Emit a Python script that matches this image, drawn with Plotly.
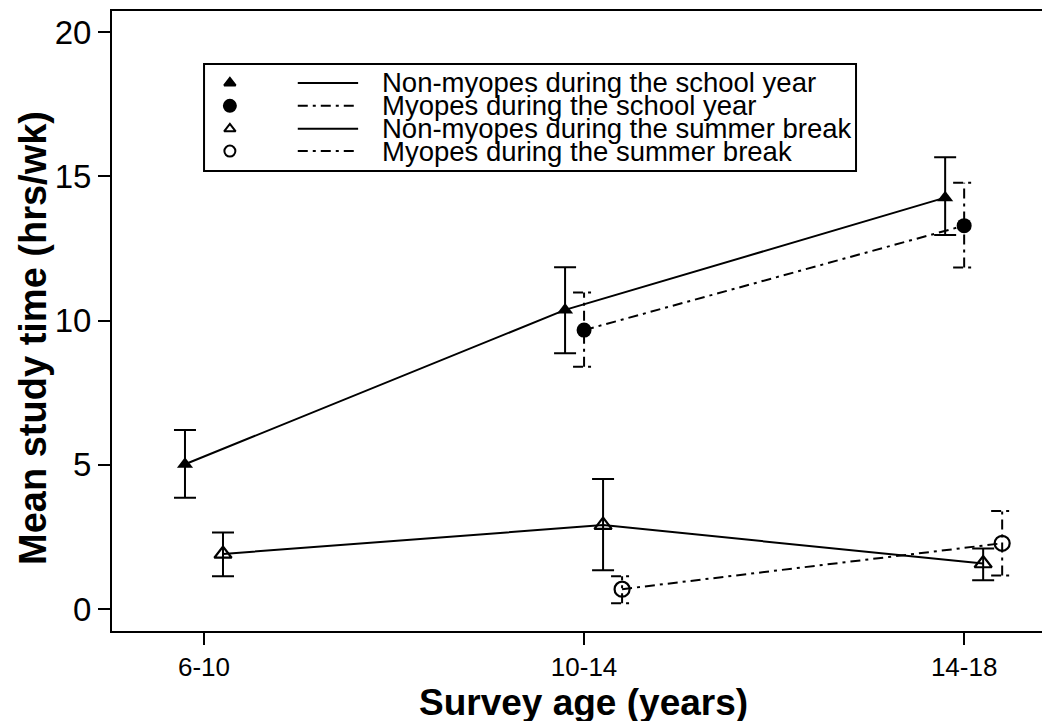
import plotly.graph_objects as go

# survey age groups (x categories)
ages = ["6-10", "10-14", "14-18"]

# mean study time (hrs/wk) with lower / upper error bar ends
nm_school = [5.02, 10.37, 14.26]
nm_school_hi = [6.21, 11.85, 15.66]
nm_school_lo = [3.86, 8.87, 12.97]

my_school_ages = ["10-14", "14-18"]
my_school = [9.67, 13.29]
my_school_hi = [10.97, 14.78]
my_school_lo = [8.40, 11.84]

nm_summer = [1.91, 2.91, 1.58]
nm_summer_hi = [2.65, 4.51, 2.10]
nm_summer_lo = [1.14, 1.35, 1.00]

my_summer_ages = ["10-14", "14-18"]
my_summer = [0.69, 2.28]
my_summer_hi = [1.14, 3.40]
my_summer_lo = [0.20, 1.16]

legend_labels = ["Non-myopes during the school year",
                 "Myopes during the school year",
                 "Non-myopes during the summer break",
                 "Myopes during the summer break"]

BLACK = "black"
DASHDOT = "10px,5px,3px,5px"
CAP = 0.029  # half cap width in x units
FONT = "Liberation Sans, Arial, sans-serif"


def xpos(cats, offset):
    return [ages.index(c) + 1 + offset for c in cats]


def err_path(xs, lo, hi):
    ex, ey = [], []
    for x, l, h in zip(xs, lo, hi):
        ex += [x, x, None, x - CAP, x + CAP, None, x - CAP, x + CAP, None]
        ey += [l, h, None, h, h, None, l, l, None]
    return ex, ey


fig = go.Figure()

# non-myopes school year
x1 = xpos(ages, -0.05)
fig.add_trace(go.Scatter(
    x=x1, y=nm_school, mode="lines+markers",
    line=dict(color=BLACK, width=2),
    marker=dict(symbol="triangle-up", size=14, color=BLACK),
    error_y=dict(type="data", symmetric=False,
                 array=[h - v for h, v in zip(nm_school_hi, nm_school)],
                 arrayminus=[v - l for l, v in zip(nm_school_lo, nm_school)],
                 color=BLACK, thickness=2, width=11),
    showlegend=False))

# myopes school year
x2 = xpos(my_school_ages, 0.0)
ex, ey = err_path(x2, my_school_lo, my_school_hi)
fig.add_trace(go.Scatter(x=ex, y=ey, mode="lines",
                         line=dict(color=BLACK, width=2, dash=DASHDOT),
                         showlegend=False, hoverinfo="skip"))
fig.add_trace(go.Scatter(
    x=x2, y=my_school, mode="lines+markers",
    line=dict(color=BLACK, width=2, dash=DASHDOT),
    marker=dict(symbol="circle", size=15, color=BLACK),
    showlegend=False))

# non-myopes summer break
x3 = xpos(ages, 0.05)
fig.add_trace(go.Scatter(
    x=x3, y=nm_summer, mode="lines+markers",
    line=dict(color=BLACK, width=2),
    marker=dict(symbol="triangle-up-open", size=15, color=BLACK, line=dict(width=2.2)),
    error_y=dict(type="data", symmetric=False,
                 array=[h - v for h, v in zip(nm_summer_hi, nm_summer)],
                 arrayminus=[v - l for l, v in zip(nm_summer_lo, nm_summer)],
                 color=BLACK, thickness=2, width=11),
    showlegend=False))

# myopes summer break
x4 = xpos(my_summer_ages, 0.10)
ex, ey = err_path(x4, my_summer_lo, my_summer_hi)
fig.add_trace(go.Scatter(x=ex, y=ey, mode="lines",
                         line=dict(color=BLACK, width=2, dash=DASHDOT),
                         showlegend=False, hoverinfo="skip"))
fig.add_trace(go.Scatter(
    x=x4, y=my_summer, mode="lines+markers",
    line=dict(color=BLACK, width=2, dash=DASHDOT),
    marker=dict(symbol="circle-open", size=15, color=BLACK, line=dict(width=2.2)),
    showlegend=False))

# hand-made legend on an overlay axis (0..1 = plot area)
rows_y = [0.884, 0.847, 0.810, 0.774]
symbols = ["triangle-up", "circle", "triangle-up-open", "circle-open"]
sizes = [10, 12, 10, 11]
dashes = ["solid", DASHDOT, "solid", DASHDOT]
for ry, sym, sz, d, lab in zip(rows_y, symbols, sizes, dashes, legend_labels):
    fig.add_trace(go.Scatter(x=[0.125], y=[ry], mode="markers", xaxis="x2", yaxis="y2",
                             marker=dict(symbol=sym, size=sz, color=BLACK, line=dict(width=2, color=BLACK)),
                             showlegend=False, hoverinfo="skip"))
    fig.add_trace(go.Scatter(x=[0.197, 0.261], y=[ry, ry], mode="lines", xaxis="x2", yaxis="y2",
                             line=dict(color=BLACK, width=2, dash=d),
                             showlegend=False, hoverinfo="skip"))
    fig.add_annotation(x=0.284, y=ry, xref="paper", yref="paper", text=lab,
                       showarrow=False, xanchor="left", yanchor="middle",
                       font=dict(size=27.5, color=BLACK, family=FONT))

fig.add_shape(type="rect", xref="paper", yref="paper", x0=0.0976, x1=0.789, y0=0.742, y1=0.9145,
              line=dict(color=BLACK, width=2), fillcolor="rgba(0,0,0,0)")

# axis titles
fig.add_annotation(x=0.4995, y=-0.1516, xref="paper", yref="paper",
                   text="<b>Survey age (years)</b>", showarrow=False,
                   xanchor="center", yanchor="bottom", font=dict(size=37, color=BLACK, family=FONT))
fig.add_annotation(x=-0.0838, y=0.4726, xref="paper", yref="paper",
                   text="<b>Mean study time (hrs/wk)</b>", showarrow=False, textangle=-90,
                   xanchor="center", yanchor="middle", font=dict(size=38, color=BLACK, family=FONT))

fig.update_layout(
    width=1050, height=721,
    margin=dict(l=104, r=3, t=3, b=98),
    plot_bgcolor="white", paper_bgcolor="white",
    font=dict(family=FONT, color=BLACK),
    xaxis=dict(range=[0.758, 3.239], tickvals=[1, 2, 3], ticktext=ages,
               ticks="outside", ticklen=12, tickwidth=2, tickcolor=BLACK,
               showline=True, linewidth=2, linecolor=BLACK, mirror=True,
               showgrid=False, zeroline=False, automargin=False,
               tickfont=dict(size=26)),
    yaxis=dict(range=[-0.76, 20.73], tickvals=[0, 5, 10, 15, 20],
               ticks="outside", ticklen=12, tickwidth=2, tickcolor=BLACK,
               showline=True, linewidth=2, linecolor=BLACK, mirror=True,
               showgrid=False, zeroline=False, automargin=False,
               tickfont=dict(size=33)),
    xaxis2=dict(overlaying="x", range=[0, 1], visible=False),
    yaxis2=dict(overlaying="y", range=[0, 1], visible=False),
)

fig.write_html("out.html")
